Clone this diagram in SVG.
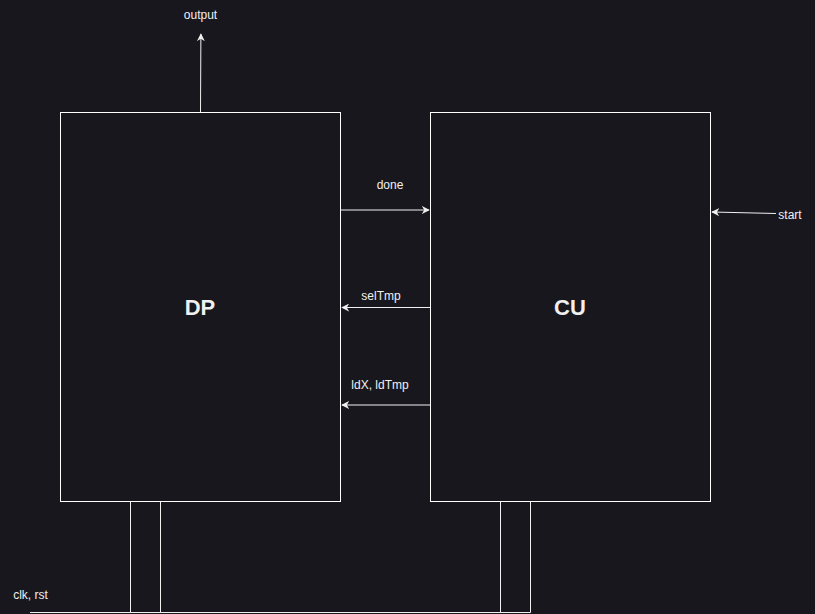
<svg xmlns="http://www.w3.org/2000/svg" width="815" height="614" viewBox="0 0 815 614">
<defs>
<style>
.box{fill:none;stroke:#ffffff;stroke-width:1}
.wire{fill:none;stroke:#f0f0f0;stroke-width:1}
.lbl{font-family:"Liberation Sans",Arial,sans-serif;font-size:12px;fill:#f0f0f0;text-anchor:middle}
.big{font-family:"Liberation Sans",Arial,sans-serif;font-size:22px;font-weight:bold;fill:#f0f0f0;text-anchor:middle}
</style>
<marker id="ah" viewBox="0 0 10 10" refX="9" refY="5" markerWidth="8" markerHeight="8" markerUnits="userSpaceOnUse" orient="auto">
<path d="M0,0 L10,5 L0,10 L3,5 Z" fill="#f0f0f0"/>
</marker>
</defs>
<rect width="815" height="614" fill="#18171e"/>
<g id="DP">
<rect class="box" x="60.5" y="112.5" width="280" height="389"/>
<text class="big" x="200" y="315">DP</text>
</g>
<g id="CU">
<rect class="box" x="430.5" y="112.5" width="280" height="389"/>
<text class="big" x="570" y="315">CU</text>
</g>
<g id="connectors">
<path class="wire" d="M200.5,112 L200.9,34" marker-end="url(#ah)"/>
<path class="wire" d="M341,210 L429,210" marker-end="url(#ah)"/>
<path class="wire" d="M430,307.5 L342,307.5" marker-end="url(#ah)"/>
<path class="wire" d="M430,405 L342,405" marker-end="url(#ah)"/>
<path class="wire" d="M776,213.5 L712,212" marker-end="url(#ah)"/>
<path class="wire" d="M130.5,502 L130.5,612.5 M160.5,502 L160.5,612.5 M500.5,502 L500.5,612.5 M530.5,502 L530.5,612.5 M30,612.5 L530.5,612.5"/>
</g>
<g id="labels">
<text class="lbl" x="200.5" y="19">output</text>
<text class="lbl" x="390" y="189">done</text>
<text class="lbl" x="381" y="300">selTmp</text>
<text class="lbl" x="380" y="389">ldX, ldTmp</text>
<text class="lbl" x="790" y="219">start</text>
<text class="lbl" x="30.5" y="599">clk, rst</text>
</g>
</svg>
